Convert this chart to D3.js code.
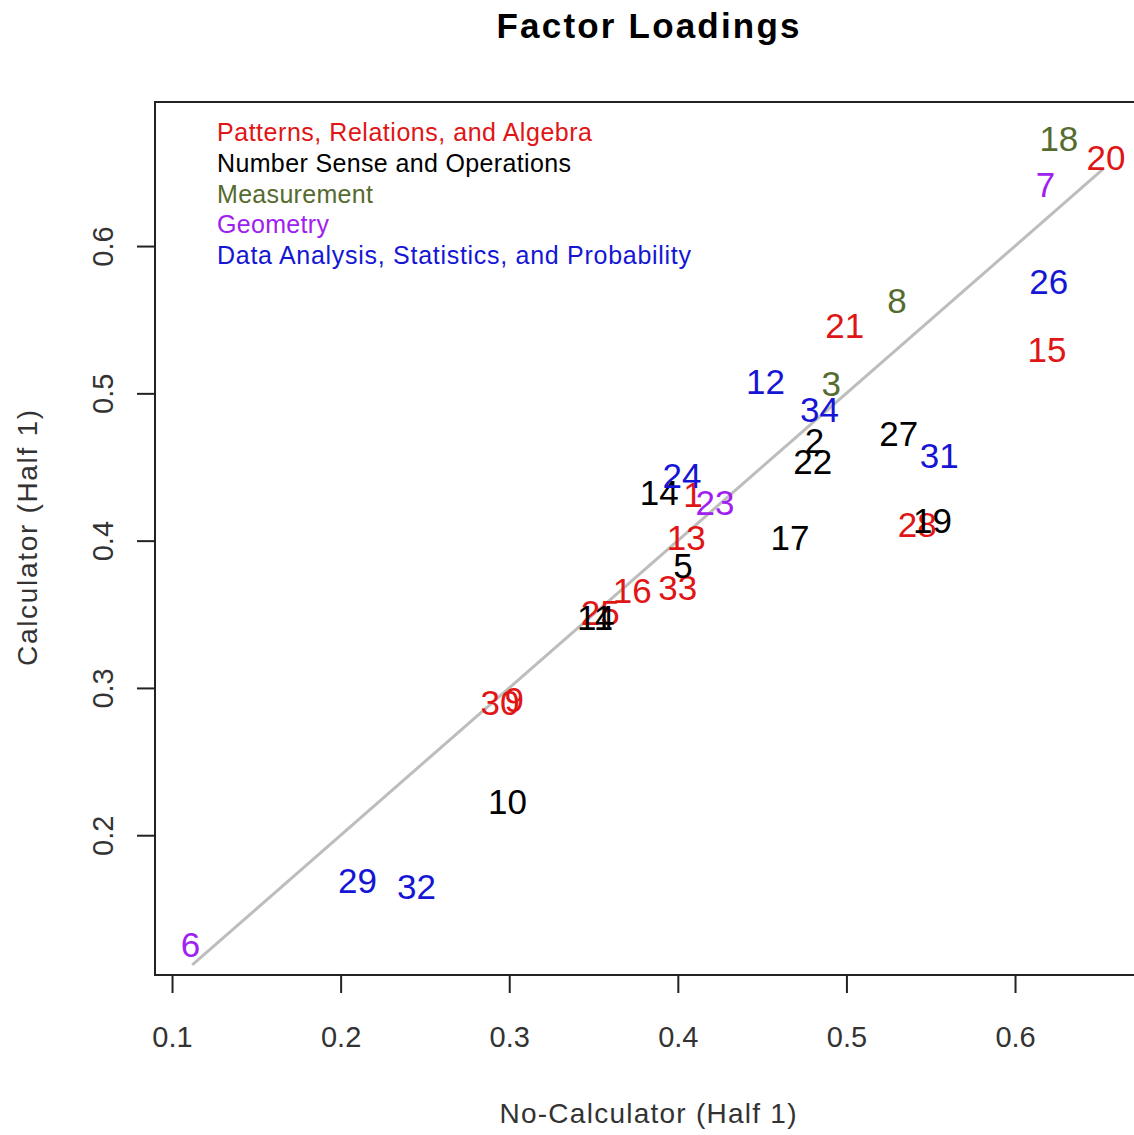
<!DOCTYPE html>
<html lang="en">
<head>
<meta charset="UTF-8">
<title>Factor Loadings</title>
<script src="https://d3js.org/d3.v7.min.js"></script>
<style>
    body { margin: 0; background: #fff; overflow: hidden; }
    text { font-family: 'Liberation Sans', Arial, sans-serif; }
</style>
</head>
<body>
<div id="chart"></div>
<script>
    // item numbers, loadings and strand of each item
    let items = [1, 2, 3, 4, 5, 6, 7, 8, 9, 10, 11, 12, 13, 14, 15, 16, 17,
        18, 19, 20, 21, 22, 23, 24, 25, 26, 27, 28, 29, 30, 31, 32, 33, 34];
    let noCalc = [0.409, 0.481, 0.491, 0.3567, 0.403, 0.111, 0.618, 0.530, 0.303, 0.299, 0.3509, 0.452,
        0.405, 0.389, 0.619, 0.373, 0.4665, 0.626, 0.551, 0.654, 0.499, 0.480, 0.422, 0.4025,
        0.354, 0.620, 0.531, 0.542, 0.210, 0.2945, 0.555, 0.245, 0.400, 0.484];
    let calc = [0.4316, 0.468, 0.507, 0.3481, 0.383, 0.126, 0.642, 0.563, 0.2925, 0.223, 0.3481, 0.508,
        0.402, 0.433, 0.530, 0.3665, 0.402, 0.673, 0.414, 0.660, 0.546, 0.454, 0.426, 0.444,
        0.351, 0.576, 0.473, 0.411, 0.169, 0.290, 0.458, 0.165, 0.368, 0.489];
    let strand = [0, 1, 2, 1, 1, 3, 3, 2, 0, 1, 1, 4, 0, 1, 0, 0, 1, 2, 1, 0, 0, 1, 3, 4,
        0, 4, 1, 0, 4, 0, 4, 4, 0, 4];

    let strandNames = ["Patterns, Relations, and Algebra", "Number Sense and Operations",
        "Measurement", "Geometry", "Data Analysis, Statistics, and Probability"];
    let strandColors = ["#e01515", "#000000", "#556b2f", "#a020f0", "#1515d5"];
    let legendWidths = [375, 354, 156, 112, 474];

    let xTicks = [0.1, 0.2, 0.3, 0.4, 0.5, 0.6];
    let yTicks = [0.2, 0.3, 0.4, 0.5, 0.6];
    let refLine = [0.112, 0.652];

    let width = 1134, height = 1135;
    let mLeft = 155, mRight = 1143, mTop = 102, mBottom = 975;

    let x = d3.scaleLinear().domain([0.0899, 0.6759]).range([mLeft, mRight]);
    let y = d3.scaleLinear().domain([0.1051, 0.6978]).range([mBottom, mTop]);

    let svg = d3.select("#chart").append("svg")
        .attr("width", width)
        .attr("height", height);

    // title
    svg.append("text")
        .attr("x", 648).attr("y", 38)
        .attr("text-anchor", "middle")
        .attr("textLength", 303).attr("lengthAdjust", "spacing")
        .style("font-size", "35px").style("font-weight", "bold")
        .text("Factor Loadings");

    // reference line y = x
    svg.append("line")
        .attr("x1", x(refLine[0])).attr("y1", y(refLine[0]))
        .attr("x2", x(refLine[1])).attr("y2", y(refLine[1]))
        .attr("stroke", "#bdbdbd").attr("stroke-width", 3);

    // points drawn strand by strand
    let pts = items.map((d, i) => ({ id: d, x: noCalc[i], y: calc[i], s: strand[i] }));
    pts.sort((a, b) => a.s - b.s || a.id - b.id);

    svg.append("g").selectAll("text")
        .data(pts)
        .enter().append("text")
        .attr("x", d => x(d.x))
        .attr("y", d => y(d.y))
        .attr("dy", "0.36em")
        .attr("text-anchor", "middle")
        .style("font-size", "35px")
        .attr("fill", d => strandColors[d.s])
        .text(d => d.id);

    // legend
    svg.append("g").selectAll("text")
        .data(strandNames)
        .enter().append("text")
        .attr("x", 217)
        .attr("y", (d, i) => 141 + i * 30.8)
        .attr("textLength", (d, i) => legendWidths[i]).attr("lengthAdjust", "spacing")
        .style("font-size", "25px")
        .attr("fill", (d, i) => strandColors[i])
        .text(d => d);

    // box
    svg.append("rect")
        .attr("x", mLeft).attr("y", mTop)
        .attr("width", mRight - mLeft).attr("height", mBottom - mTop)
        .attr("fill", "none").attr("stroke", "#222").attr("stroke-width", 2);

    // x axis
    let xAxis = svg.append("g")
        .attr("transform", "translate(0," + mBottom + ")")
        .call(d3.axisBottom(x).tickValues(xTicks).tickSize(18).tickPadding(33).tickFormat(d3.format(".1f")));
    xAxis.select(".domain").remove();
    xAxis.selectAll("line").attr("stroke", "#222").attr("stroke-width", 2);
    xAxis.selectAll("text").style("font-size", "29px").attr("fill", "#333")
        .style("font-family", "'Liberation Sans', Arial, sans-serif");

    // y axis
    let yAxis = svg.append("g")
        .attr("transform", "translate(" + mLeft + ",0)")
        .call(d3.axisLeft(y).tickValues(yTicks).tickSize(18).tickFormat(d3.format(".1f")));
    yAxis.select(".domain").remove();
    yAxis.selectAll("line").attr("stroke", "#222").attr("stroke-width", 2);
    yAxis.selectAll("text")
        .attr("x", null).attr("dy", null)
        .attr("text-anchor", "middle")
        .attr("transform", "translate(-42,0) rotate(-90)")
        .style("font-size", "29px").attr("fill", "#333")
        .style("font-family", "'Liberation Sans', Arial, sans-serif");

    // axis titles
    svg.append("text")
        .attr("x", 648).attr("y", 1123)
        .attr("text-anchor", "middle")
        .attr("textLength", 297).attr("lengthAdjust", "spacing")
        .style("font-size", "28px").attr("fill", "#333")
        .text("No-Calculator (Half 1)");

    svg.append("text")
        .attr("transform", "translate(37,538) rotate(-90)")
        .attr("text-anchor", "middle")
        .attr("textLength", 256).attr("lengthAdjust", "spacing")
        .style("font-size", "28px").attr("fill", "#333")
        .text("Calculator (Half 1)");
</script>
</body>
</html>
